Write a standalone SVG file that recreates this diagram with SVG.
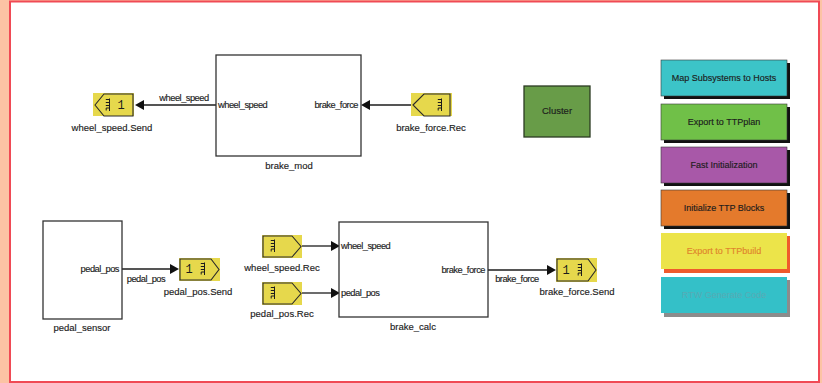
<svg xmlns="http://www.w3.org/2000/svg" width="822" height="383" viewBox="0 0 822 383">
  <style>
    .t { font-family: "Liberation Sans", Arial, sans-serif; font-size: 9.5px; fill: #1c1c1c; stroke: #1c1c1c; stroke-width: 0.15; }
    .p { font-size: 9.3px; letter-spacing: -0.5px; }
    .m { text-anchor: middle; }
    .e { text-anchor: end; }
    .num { font-family: "Liberation Mono", "Courier New", monospace; font-size: 12px; fill: #1c1c1c; text-anchor: middle; }
    .sub { fill: #ffffff; stroke: #333333; stroke-width: 1.3; }
    .tag { fill: #e6d84c; }
    .tagline { fill: none; stroke: #2a2a2a; stroke-width: 1.1; }
    .wire { stroke: #1c1c1c; stroke-width: 1.3; fill: none; }
    .head { fill: #111111; }
    .btn { stroke: #3a3a3a; stroke-width: 0.6; }
    .bt { font-family: "Liberation Sans", Arial, sans-serif; font-size: 9px; fill: #1c1c1c; stroke: #1c1c1c; stroke-width: 0.15; text-anchor: middle; }
  </style>
  <defs>
    <!-- TTP message icon used on send/receive tags -->
    <symbol id="ttp" viewBox="0 0 6 14" width="6" height="14">
      <path d="M4.5 0.5 V13 M0.8 1.5 H4.5 M0.8 4.5 H4.5 M0.8 7.5 H4.5 M4.5 10 H1.2 V12.5" fill="none" stroke="#1c1c1c" stroke-width="1"/>
    </symbol>
  </defs>

  <!-- page frame -->
  <rect x="0" y="0" width="822" height="383" fill="#fcc3a4"/>
  <rect x="10" y="1.5" width="809" height="380.5" fill="#ffffff" stroke="#f04a55" stroke-width="2"/>

  <!-- connectors -->
  <g id="connectors">
    <line class="wire" x1="216" y1="105" x2="143" y2="105"/>
    <polygon class="head" points="135,105 144,100 144,110"/>
    <text class="t p m" x="184" y="101">wheel_speed</text>

    <line class="wire" x1="411" y1="105" x2="369" y2="105"/>
    <polygon class="head" points="361,105 370,100 370,110"/>

    <line class="wire" x1="122" y1="269" x2="171" y2="269"/>
    <polygon class="head" points="179,269 170,264 170,274"/>
    <text class="t p m" x="146" y="282">pedal_pos</text>

    <line class="wire" x1="302" y1="246" x2="332" y2="246"/>
    <polygon class="head" points="340,246 331,241 331,251"/>

    <line class="wire" x1="302" y1="293" x2="332" y2="293"/>
    <polygon class="head" points="340,293 331,288 331,298"/>

    <line class="wire" x1="488" y1="270" x2="548" y2="270"/>
    <polygon class="head" points="556,270 547,265 547,275"/>
    <text class="t p m" x="517" y="282">brake_force</text>
  </g>

  <!-- subsystem blocks -->
  <g id="brake_mod">
    <rect class="sub" x="216" y="55" width="145" height="101"/>
    <text class="t p" x="218" y="108">wheel_speed</text>
    <text class="t p e" x="358" y="108">brake_force</text>
    <text class="t m" x="289" y="169">brake_mod</text>
  </g>

  <g id="pedal_sensor">
    <rect class="sub" x="43" y="221" width="79" height="98"/>
    <text class="t p e" x="119" y="272">pedal_pos</text>
    <text class="t m" x="82" y="331">pedal_sensor</text>
  </g>

  <g id="brake_calc">
    <rect class="sub" x="339" y="222" width="149" height="95"/>
    <text class="t p" x="341" y="249">wheel_speed</text>
    <text class="t p" x="341" y="296">pedal_pos</text>
    <text class="t p e" x="485" y="273">brake_force</text>
    <text class="t m" x="413" y="330">brake_calc</text>
  </g>

  <!-- TTP send / receive tags -->
  <g id="wheel_speed_send">
    <rect class="tag" x="93" y="93" width="41" height="23"/>
    <polygon class="tagline" points="95,105 104,94 133,94 133,116 104,116"/>
    <use href="#ttp" x="105" y="98"/>
    <text class="num" x="121" y="109">1</text>
    <text class="t m" x="112" y="131">wheel_speed.Send</text>
  </g>

  <g id="brake_force_rec">
    <rect class="tag" x="411" y="93" width="41" height="23"/>
    <polygon class="tagline" points="413,105 424,94 450,94 450,116 424,116"/>
    <use href="#ttp" x="437" y="98"/>
    <text class="t m" x="431" y="131">brake_force.Rec</text>
  </g>

  <g id="pedal_pos_send">
    <rect class="tag" x="179" y="258" width="41" height="23"/>
    <polygon class="tagline" points="180,259 211,259 219,269.5 211,280 180,280"/>
    <use href="#ttp" x="200" y="262"/>
    <text class="num" x="189" y="273">1</text>
    <text class="t m" x="198" y="295">pedal_pos.Send</text>
  </g>

  <g id="wheel_speed_rec">
    <rect class="tag" x="262" y="235" width="40" height="23"/>
    <polygon class="tagline" points="263,236 292,236 301,246.5 292,257 263,257"/>
    <use href="#ttp" x="270" y="239"/>
    <text class="t m" x="282" y="271">wheel_speed.Rec</text>
  </g>

  <g id="pedal_pos_rec">
    <rect class="tag" x="262" y="282" width="40" height="23"/>
    <polygon class="tagline" points="263,283 292,283 301,293.5 292,304 263,304"/>
    <use href="#ttp" x="270" y="286"/>
    <text class="t m" x="282" y="317">pedal_pos.Rec</text>
  </g>

  <g id="brake_force_send">
    <rect class="tag" x="556" y="258" width="41" height="24"/>
    <polygon class="tagline" points="557,259 588,259 596,270 588,281 557,281"/>
    <use href="#ttp" x="577" y="263"/>
    <text class="num" x="566" y="274">1</text>
    <text class="t m" x="577" y="295">brake_force.Send</text>
  </g>

  <g id="cluster">
    <rect x="524" y="86" width="66" height="51" fill="#689c48" stroke="#2b3b22" stroke-width="1.3"/>
    <text class="t m" x="557" y="114">Cluster</text>
  </g>

  <!-- tool buttons -->
  <g id="btn_map">
    <rect x="664" y="63" width="126" height="36" fill="#111111"/>
    <rect class="btn" x="661" y="60" width="126" height="36" fill="#3cc4c8"/>
    <text class="bt" x="724" y="81">Map Subsystems to Hosts</text>
  </g>
  <g id="btn_ttpplan">
    <rect x="664" y="107" width="126" height="36" fill="#111111"/>
    <rect class="btn" x="661" y="104" width="126" height="36" fill="#70c048"/>
    <text class="bt" x="724" y="125">Export to TTPplan</text>
  </g>
  <g id="btn_fastinit">
    <rect x="664" y="150" width="126" height="36" fill="#111111"/>
    <rect class="btn" x="661" y="147" width="126" height="36" fill="#a858a8"/>
    <text class="bt" x="724" y="168">Fast Initialization</text>
  </g>
  <g id="btn_init">
    <rect x="664" y="193" width="126" height="36" fill="#111111"/>
    <rect class="btn" x="661" y="190" width="126" height="36" fill="#e47a2c"/>
    <text class="bt" x="724" y="211">Initialize TTP Blocks</text>
  </g>
  <g id="btn_ttpbuild">
    <rect x="664" y="236" width="126" height="37" fill="#f05a2c"/>
    <rect x="661" y="233" width="126" height="36" fill="#ece44a"/>
    <text class="bt" x="724" y="254" style="fill:#e0842c; stroke:#e0842c">Export to TTPbuild</text>
  </g>
  <g id="btn_rtw">
    <rect x="664" y="280" width="126" height="37" fill="#8c8c8c"/>
    <rect x="661" y="277" width="126" height="36" fill="#34c0c8"/>
    <text class="bt" x="724" y="298" style="fill:#58aab4; stroke:none">RTW Generate Code</text>
  </g>
</svg>
